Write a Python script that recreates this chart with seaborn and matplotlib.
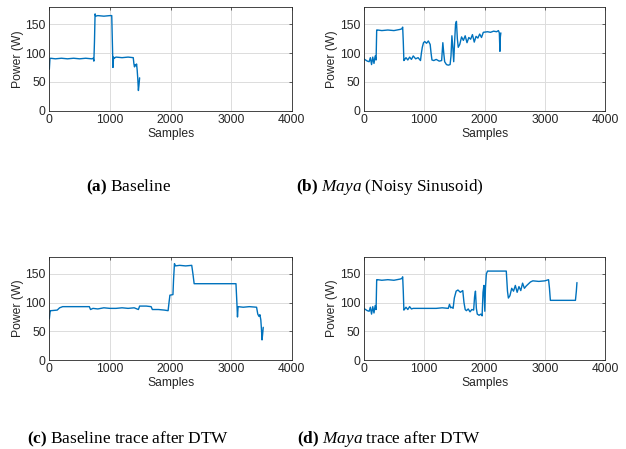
import numpy as np
import pandas as pd
import matplotlib
matplotlib.use("Agg")
import matplotlib.pyplot as plt
import seaborn as sns

# ---- data (sample index, power in W) ----
base_x = [0, 10, 20, 100, 200, 300, 400, 500, 600, 700, 725, 735, 745, 755, 765,
          800, 900, 1000, 1030, 1040, 1050, 1060, 1070, 1100, 1200, 1300, 1385,
          1395, 1405, 1420, 1430, 1440, 1450, 1460, 1470, 1480, 1490]
base_y = [72, 90, 91, 90, 91, 90, 91, 90, 91, 90, 91, 86, 120, 168, 164,
          165, 164, 165, 165, 120, 75, 93, 91, 93, 92, 93, 92,
          82, 76, 80, 78, 81, 70, 55, 35, 45, 57]

maya_x = [0, 30, 60, 90, 110, 130, 150, 170, 190, 205, 215, 230, 300, 400, 500,
          600, 630, 645, 655, 665, 680, 700, 730, 760, 790, 820, 860, 900, 940,
          955, 970, 990, 1010, 1040, 1070, 1100, 1115, 1130, 1160, 1200, 1250,
          1290, 1310, 1325, 1340, 1370, 1400, 1430, 1445, 1460, 1475, 1490, 1505,
          1520, 1535, 1550, 1565, 1590, 1620, 1650, 1680, 1710, 1740, 1770, 1800,
          1830, 1860, 1890, 1920, 1950, 1980, 2050, 2100, 2150, 2200, 2230, 2245,
          2255, 2262, 2270]
maya_y = [90, 88, 86, 85, 92, 80, 93, 82, 95, 88, 140, 140, 139, 140, 139,
          141, 142, 145, 120, 87, 89, 92, 88, 93, 89, 95, 90, 92, 87,
          100, 110, 118, 120, 117, 121, 115, 100, 88, 87, 89, 86,
          87, 118, 100, 85, 80, 79, 80, 95, 130, 110, 85, 120,
          150, 155, 125, 110, 115, 128, 122, 130, 118, 127, 124, 132, 119,
          129, 126, 133, 127, 136, 137, 136, 138, 137, 139, 135, 103, 128, 135]

dtw_base_x = [0, 15, 30, 130, 170, 220, 300, 400, 500, 660, 680, 720, 800, 900,
              1000, 1100, 1200, 1300, 1400, 1470, 1490, 1510, 1600, 1680, 1700,
              1800, 1900, 1960, 1975, 1990, 2040, 2050, 2065, 2080, 2150, 2250,
              2350, 2370, 2390, 2600, 2800, 3000, 3080, 3095, 3105, 3115, 3200,
              3300, 3420, 3440, 3460, 3475, 3490, 3500, 3510, 3520, 3530]
dtw_base_y = [72, 86, 86, 87, 91, 93, 93, 93, 93, 93, 88, 90, 89, 91,
              90, 90, 91, 90, 91, 88, 94, 94, 94, 93, 88,
              88, 87, 86, 100, 113, 114, 140, 168, 164, 165, 164,
              165, 150, 133, 133, 133, 133, 133, 100, 75, 93, 92,
              93, 92, 80, 76, 79, 70, 55, 35, 45, 57]

dtw_maya_x = [0, 30, 60, 90, 110, 130, 150, 170, 190, 205, 215, 230, 300, 400,
              500, 600, 630, 645, 655, 665, 680, 700, 730, 760, 790, 820, 900,
              1000, 1100, 1200, 1300, 1400, 1420, 1440, 1460, 1480, 1500, 1530,
              1560, 1600, 1640, 1660, 1680, 1700, 1730, 1760, 1790, 1820, 1835,
              1850, 1865, 1880, 1910, 1940, 1960, 1975, 1990, 2005, 2015, 2030,
              2050, 2150, 2250, 2360, 2380, 2395, 2420, 2450, 2480, 2510, 2540,
              2570, 2600, 2630, 2660, 2690, 2720, 2760, 2800, 2900, 3000, 3060,
              3075, 3090, 3200, 3300, 3400, 3505, 3520, 3530]
dtw_maya_y = [90, 88, 86, 85, 92, 80, 93, 82, 95, 88, 140, 140, 139, 140,
              139, 141, 142, 145, 120, 87, 89, 92, 88, 93, 89, 90, 90,
              90, 90, 90, 91, 90, 97, 91, 92, 90, 108, 120, 122,
              118, 121, 100, 88, 86, 89, 84, 88, 87, 110,
              120, 90, 80, 78, 80, 77, 118, 130, 85, 125, 150,
              155, 155, 155, 155, 120, 108, 112, 125, 120, 130, 118,
              128, 121, 134, 125, 129, 132, 136, 138, 137, 138, 140,
              125, 104, 104, 104, 104, 104, 120, 135]

panels = [
    (base_x, base_y, r"$\mathbf{(a)}$ Baseline"),
    (maya_x, maya_y, r"$\mathbf{(b)}$ $\mathit{Maya}$ (Noisy Sinusoid)"),
    (dtw_base_x, dtw_base_y, r"$\mathbf{(c)}$ Baseline trace after DTW"),
    (dtw_maya_x, dtw_maya_y, r"$\mathbf{(d)}$ $\mathit{Maya}$ trace after DTW"),
]

sns.set_style("whitegrid")
plt.rcParams["font.family"] = ["Liberation Sans", "DejaVu Sans"]
plt.rcParams["mathtext.fontset"] = "custom"
plt.rcParams["mathtext.rm"] = "Liberation Serif"
plt.rcParams["mathtext.it"] = "Liberation Serif:italic"
plt.rcParams["mathtext.bf"] = "Liberation Serif:bold"

fig = plt.figure(figsize=(6.26, 4.49), dpi=100)

# axes boxes (left, bottom, width, height) in figure fractions
boxes = [
    (0.0788, 0.7535, 0.3872, 0.231),
    (0.5810, 0.7535, 0.3860, 0.231),
    (0.0788, 0.1982, 0.3872, 0.230),
    (0.5810, 0.1982, 0.3860, 0.230),
]
cap_pos = [(0.205, 0.5835), (0.623, 0.5835), (0.205, 0.0223), (0.622, 0.0223)]

for (xs, ys, cap), box, (cx, cy) in zip(panels, boxes, cap_pos):
    ax = fig.add_axes(box)
    df = pd.DataFrame({"Samples": xs, "Power": ys})
    sns.lineplot(data=df, x="Samples", y="Power", ax=ax, color="#0072BD",
                 linewidth=1.0, estimator=None, sort=False)
    ax.set_xlim(0, 4000)
    ax.set_ylim(0, 180)
    ax.set_xticks([0, 1000, 2000, 3000, 4000])
    ax.set_yticks([0, 50, 100, 150])
    ax.set_xlabel("Samples", fontsize=8.7, color="#262626", labelpad=1)
    ax.set_ylabel("Power (W)", fontsize=8.7, color="#262626", labelpad=1)
    ax.tick_params(labelsize=8.7, colors="#262626", direction="in", length=2,
                   width=0.5, pad=2.5, top=True, right=True)
    ax.grid(True, color="#dcdcdc", linewidth=0.7)
    for sp in ax.spines.values():
        sp.set_visible(True)
        sp.set_color("#262626")
        sp.set_linewidth(0.6)
    fig.text(cx, cy, cap, ha="center", va="center", fontsize=12.4,
             family="Liberation Serif", color="black")

fig.savefig("out.png", dpi=100)
